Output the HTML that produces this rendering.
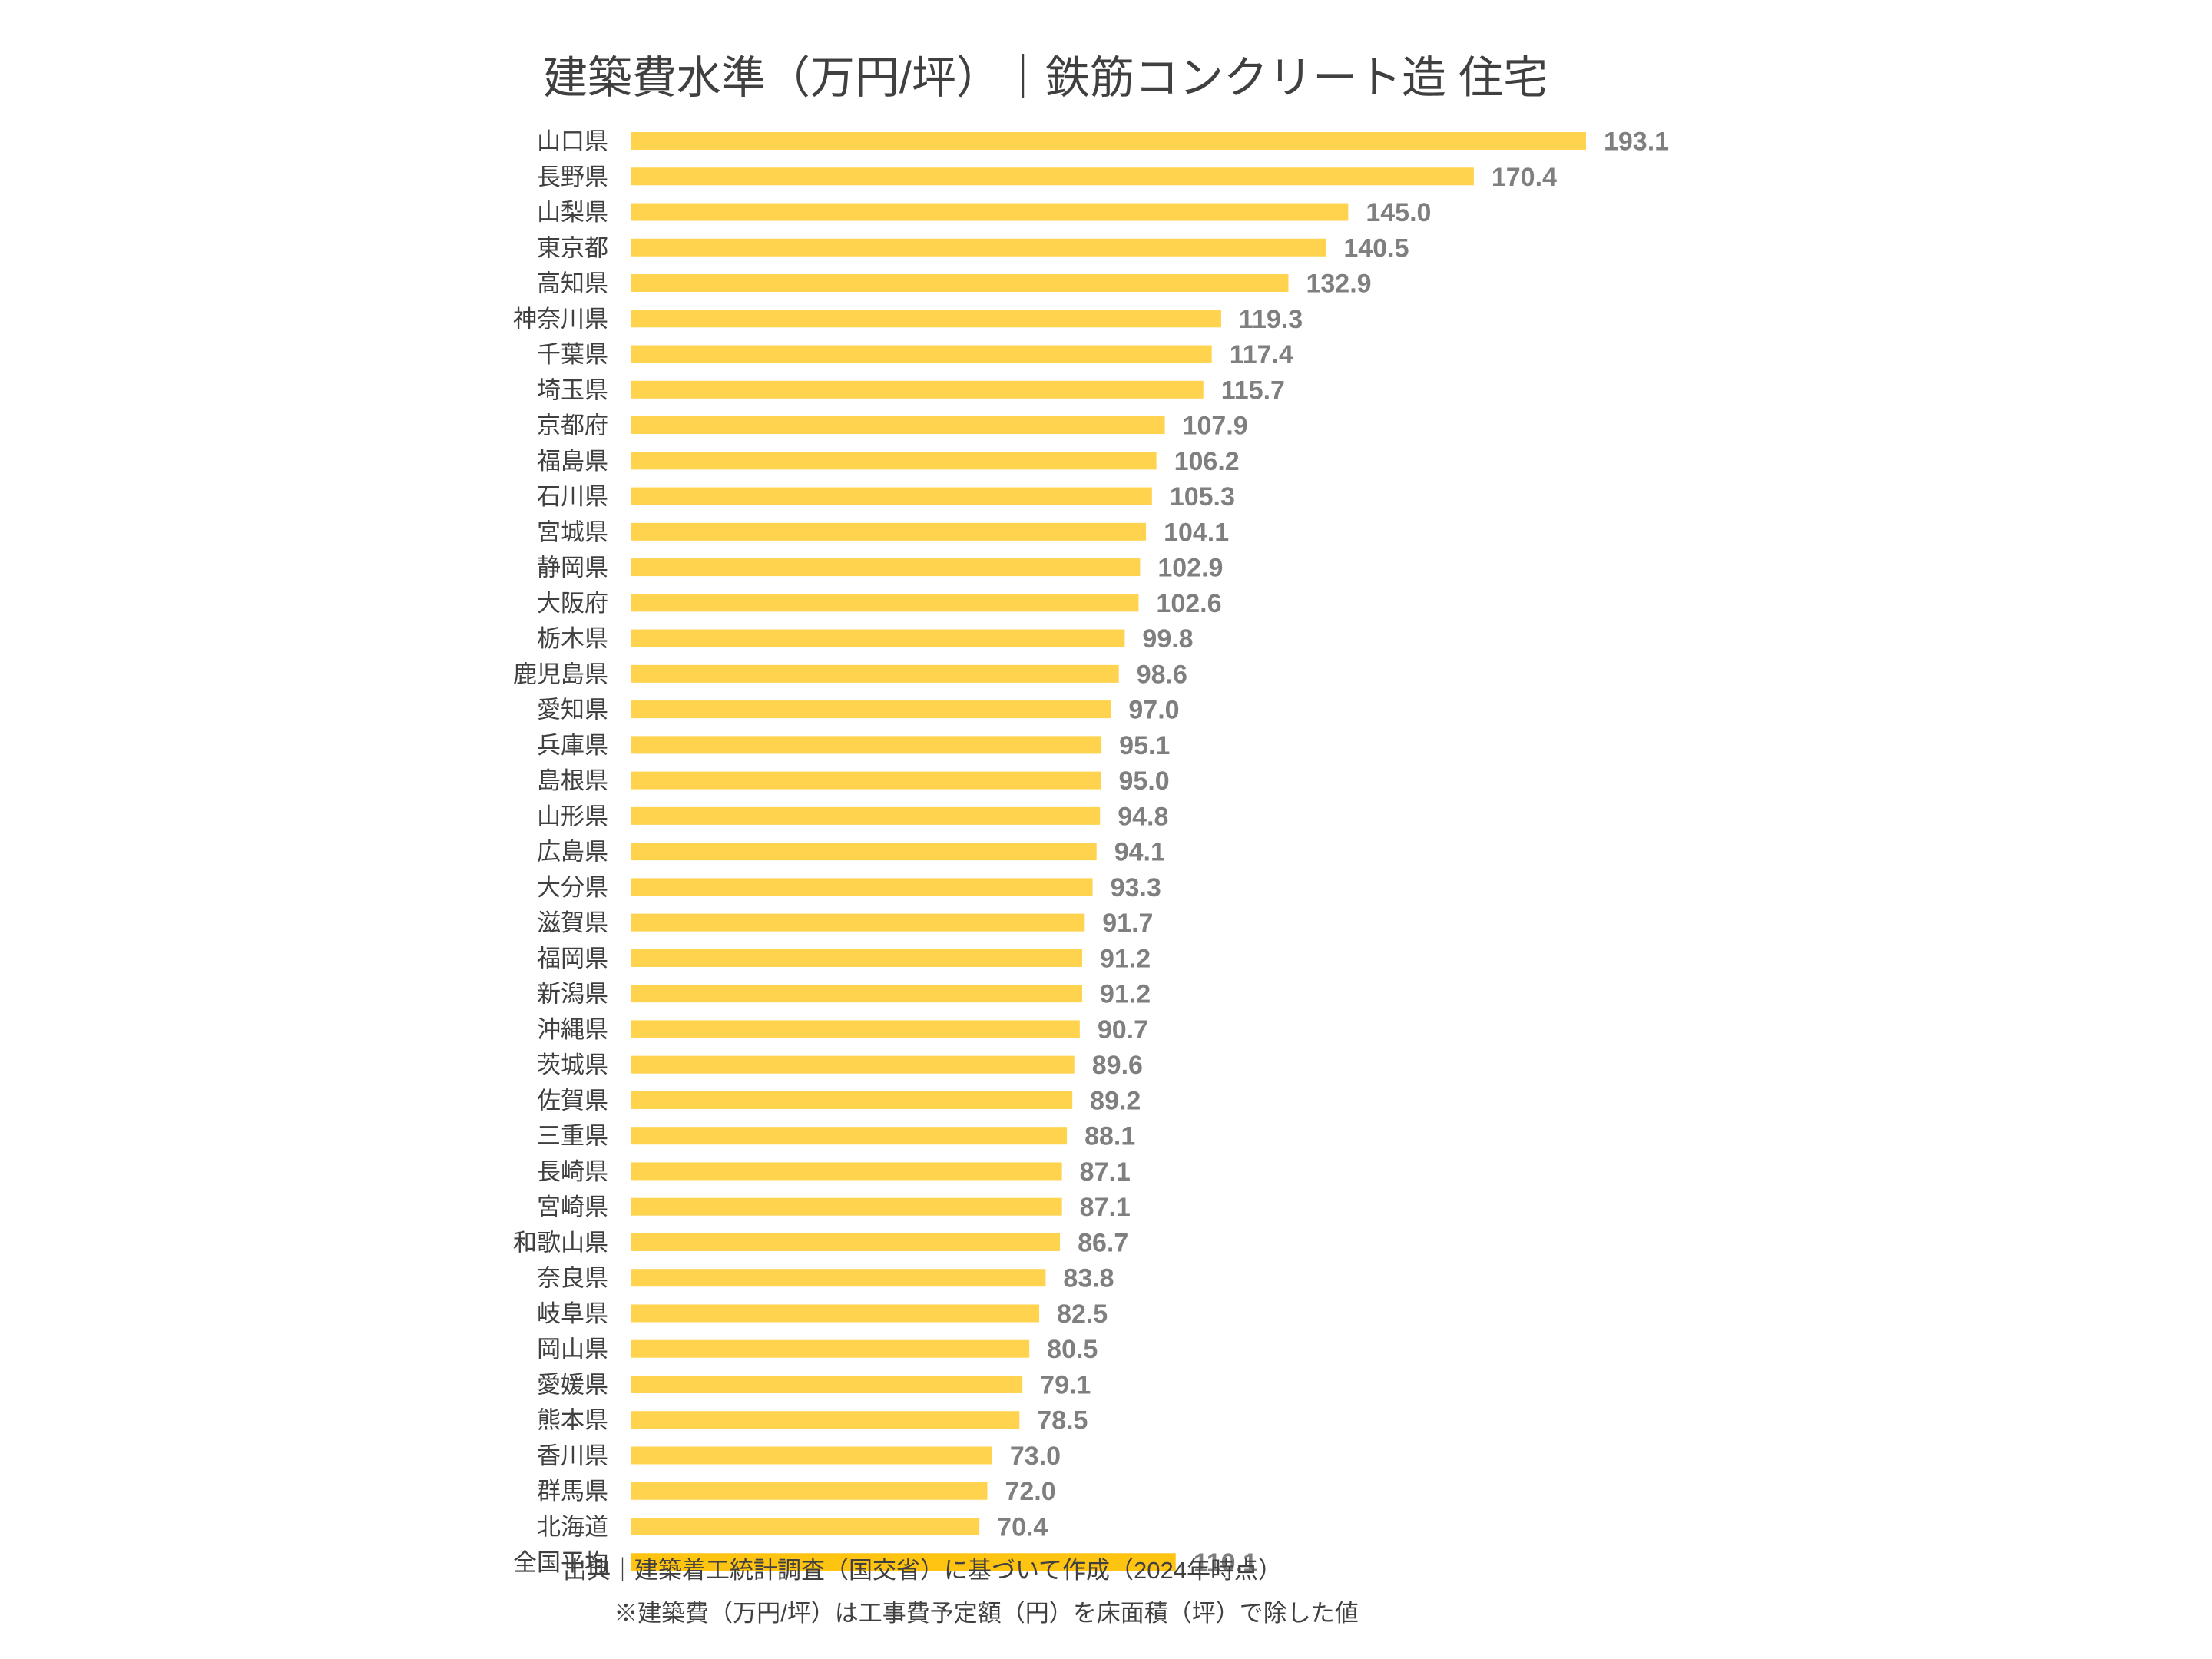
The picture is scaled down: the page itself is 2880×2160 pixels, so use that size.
<!DOCTYPE html>
<html><head><meta charset="utf-8">
<style>
html,body{margin:0;padding:0;background:#fff;}
svg{display:block;}
</style></head>
<body>
<svg id="chart" width="2880" height="2160" viewBox="0 0 2880 2160" xmlns="http://www.w3.org/2000/svg">
<text x="1361" y="121" text-anchor="middle" font-family="Liberation Sans, Noto Sans CJK JP, sans-serif" font-size="58" fill="#404040">建築費水準（万円/坪）｜鉄筋コンクリート造 住宅</text>
<g id="bars"></g>
<text x="1201" y="2055" text-anchor="middle" font-family="Liberation Sans, Noto Sans CJK JP, sans-serif" font-size="31" fill="#404040">出典｜建築着工統計調査（国交省）に基づいて作成（2024年時点）</text>
<text x="1284" y="2111" text-anchor="middle" font-family="Liberation Sans, Noto Sans CJK JP, sans-serif" font-size="31" fill="#404040">※建築費（万円/坪）は工事費予定額（円）を床面積（坪）で除した値</text>
</svg>
<script>
const categories = ["山口県","長野県","山梨県","東京都","高知県","神奈川県","千葉県","埼玉県","京都府","福島県","石川県","宮城県","静岡県","大阪府","栃木県","鹿児島県","愛知県","兵庫県","島根県","山形県","広島県","大分県","滋賀県","福岡県","新潟県","沖縄県","茨城県","佐賀県","三重県","長崎県","宮崎県","和歌山県","奈良県","岐阜県","岡山県","愛媛県","熊本県","香川県","群馬県","北海道","全国平均"];
const values = [193.1,170.4,145.0,140.5,132.9,119.3,117.4,115.7,107.9,106.2,105.3,104.1,102.9,102.6,99.8,98.6,97.0,95.1,95.0,94.8,94.1,93.3,91.7,91.2,91.2,90.7,89.6,89.2,88.1,87.1,87.1,86.7,83.8,82.5,80.5,79.1,78.5,73.0,72.0,70.4,110.1];
const valueLabels = values.map(v => v.toFixed(1));

const NS = "http://www.w3.org/2000/svg";
const x0 = 822, pxPerUnit = 6.437;
const xScale = v => x0 + v * pxPerUnit;
const firstCenter = 183.5, step = (1987.5 - 183.5) / 39;
const yScale = i => firstCenter + i * step;
const barH = 23;
const g = document.getElementById('bars');
categories.forEach((c, i) => {
  const yc = yScale(i);
  const isAvg = c === "全国平均";
  const r = document.createElementNS(NS, 'rect');
  
  
  r.setAttribute('x', x0);
  r.setAttribute('y', yc - barH / 2);
  r.setAttribute('width', xScale(values[i]) - x0);
  r.setAttribute('height', barH);
  r.setAttribute('fill', isAvg ? '#FFC312' : '#FFD34D');
  g.appendChild(r);
  const t = document.createElementNS(NS, 'text');
  
  
  t.setAttribute('x', 792);
  t.setAttribute('y', yc + 11);
  t.setAttribute('text-anchor', 'end');
  t.setAttribute('font-family', 'Liberation Sans, Noto Sans CJK JP, sans-serif');
  t.setAttribute('font-size', '31');
  t.setAttribute('fill', '#404040');
  t.textContent = c;
  g.appendChild(t);
  const v = document.createElementNS(NS, 'text');
  
  
  v.setAttribute('x', xScale(values[i]) + 23);
  v.setAttribute('y', yc + 12);
  v.setAttribute('font-family', 'Liberation Sans, sans-serif');
  v.setAttribute('font-weight', 'bold');
  v.setAttribute('font-size', '34');
  v.setAttribute('fill', '#7F7F7F');
  v.textContent = valueLabels[i];
  g.appendChild(v);
});
</script>
</body></html>
